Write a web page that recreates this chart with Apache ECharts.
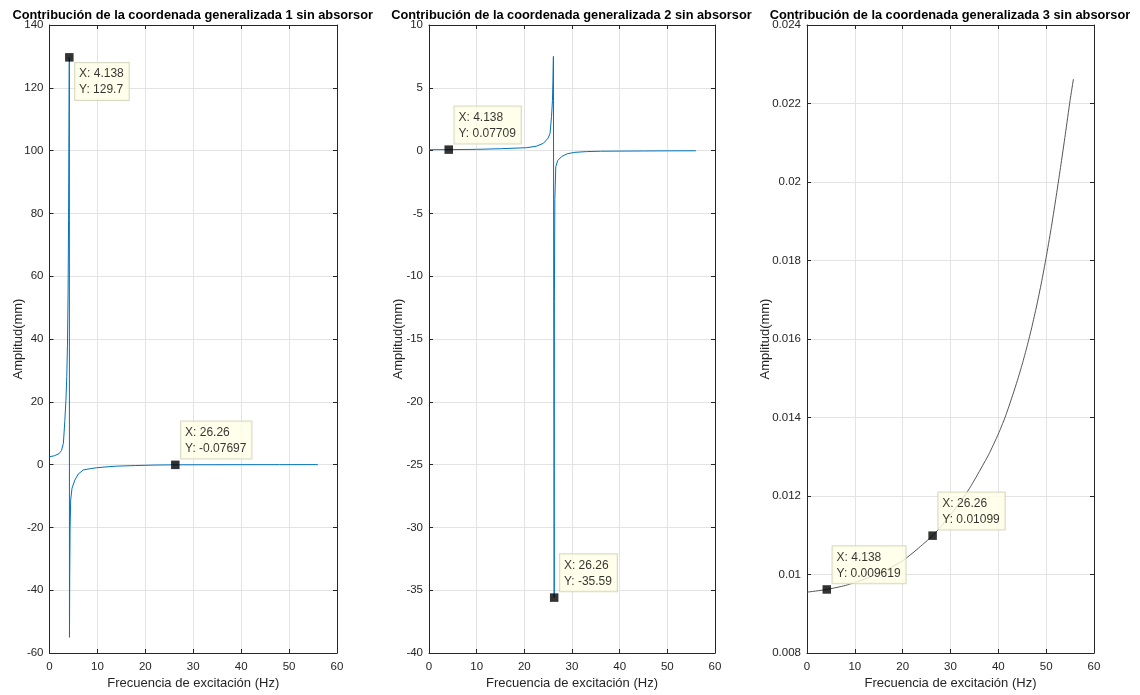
<!DOCTYPE html>
<html>
<head>
<meta charset="utf-8">
<script src="https://cdn.jsdelivr.net/npm/echarts@6/dist/echarts.min.js"></script>
<style>
html,body{margin:0;padding:0;background:#fff;}
#c{width:1140px;height:695px;}
</style>
</head>
<body>
<div id="c"></div>
<script>
// ---- data ----
const titles = [
  'Contribución de la coordenada generalizada 1 sin absorsor',
  'Contribución de la coordenada generalizada 2 sin absorsor',
  'Contribución de la coordenada generalizada 3 sin absorsor'
];
const xName = 'Frecuencia de excitación (Hz)';
const yName = 'Amplitud(mm)';
const xTicks = [0, 10, 20, 30, 40, 50, 60];
const yTicks1 = [-60, -40, -20, 0, 20, 40, 60, 80, 100, 120, 140];
const yTicks2 = [-40, -35, -30, -25, -20, -15, -10, -5, 0, 5, 10];
const yTicks3 = [0.008, 0.010, 0.012, 0.014, 0.016, 0.018, 0.020, 0.022, 0.024];

const p1X = [0,1,2,2.5,2.9,3.2,3.43,3.6,3.75,3.88,3.98,4.06,4.138,4.17,4.22,4.3,4.42,4.7,5.3,6,7.05,8.5,9.85,12,14,18,22,26.26,32,40,48,56];
const p1Y = [2.5,2.8,3.5,4.5,6.8,14,20.5,28,38,55,78,105,129.7,-55,-35,-20,-11.3,-7.5,-4.9,-3,-1.7,-1.3,-1.0,-0.7,-0.5,-0.3,-0.15,-0.07697,-0.05,-0.03,-0.02,-0.01];

const p2X = [0,4.138,10,15,20.5,22.5,24,25,25.4,25.7,25.9,26.0,26.1,26.26,26.3,26.4,26.6,27,27.8,29,30.6,33,36,40,45,50,56];
const p2Y = [0.07,0.07709,0.1,0.15,0.23,0.35,0.58,1.0,1.38,2.7,4.0,5.5,7.5,-35.59,-12,-3.9,-1.28,-0.8,-0.48,-0.25,-0.14,-0.08,-0.05,-0.04,-0.03,-0.02,-0.015];

const p3X = [0,4.138,8,12,16,20,23,26.26,28,30,32,34,36,38,40,41.4,42,43,44,45,46,47,48,49,50,51,52,53,54,55,55.7];
const p3Y = [0.00955,0.009619,0.00972,0.00988,0.01008,0.01035,0.01064,0.01099,0.01122,0.01152,0.01185,0.0122,0.01262,0.01306,0.01358,0.0140,0.01421,0.01457,0.01495,0.01536,0.01581,0.0163,0.01684,0.01743,0.01808,0.01879,0.01956,0.02037,0.02121,0.02208,0.02262];

const tipsX1 = [4.138, 26.26], tipsY1 = [129.7, -0.07697];
const tipsX2 = [4.138, 26.26], tipsY2 = [0.07709, -35.59];
const tipsX3 = [4.138, 26.26], tipsY3 = [0.009619, 0.01099];

// ---- layout / style ----
const FONT = 'Liberation Sans, Arial, Helvetica, sans-serif';
const AX = '#262626';
const GRIDC = '#e3e3e3';
const grids = [
  {left: 49.5, top: 25, width: 287.5, height: 628},
  {left: 429, top: 25, width: 286, height: 628},
  {left: 807, top: 25, width: 287, height: 628}
];
const yNameGaps = [25, 24.5, 35.5];
const yTicksAll = [yTicks1, yTicks2, yTicks3];
const lineColors = ['#0072BD', '#0072BD', '#555555'];
const pts = [[p1X, p1Y], [p2X, p2Y], [p3X, p3Y]];
const tips = [[tipsX1, tipsY1], [tipsX2, tipsY2], [tipsX3, tipsY3]];
// label placement per tip: 'below' = box below-right, 'above' = box above-right
const tipPlace = [['below', 'above'], ['above', 'above'], ['above', 'above']];

function fmtY(v) { return String(parseFloat(v.toFixed(4))); }

const xAxes = [], yAxes = [], series = [], titleArr = [];
for (let i = 0; i < 3; i++) {
  const yt = yTicksAll[i];
  const ymin = yt[0], ymax = yt[yt.length - 1], yint = yt[1] - yt[0];
  const xmin = xTicks[0], xmax = xTicks[xTicks.length - 1], xint = xTicks[1] - xTicks[0];
  xAxes.push({
    gridIndex: i, type: 'value', min: xmin, max: xmax, interval: xint, position: 'bottom',
    axisLine: {show: true, onZero: false, lineStyle: {color: AX, width: 1}},
    axisTick: {show: true, inside: true, length: 4, lineStyle: {color: AX}},
    axisLabel: {color: AX, fontSize: 11.5, margin: 8, fontFamily: FONT},
    splitLine: {show: true, lineStyle: {color: GRIDC, width: 1}},
    name: xName, nameLocation: 'middle', nameGap: 24, nameMoveOverlap: false,
    nameTextStyle: {color: AX, fontSize: 13, fontFamily: FONT}
  });
  xAxes.push({
    gridIndex: i, type: 'value', min: xmin, max: xmax, interval: xint, position: 'top',
    axisLine: {show: true, onZero: false, lineStyle: {color: AX, width: 1}},
    axisTick: {show: true, inside: true, length: 4, lineStyle: {color: AX}},
    axisLabel: {show: false}, splitLine: {show: false}
  });
  yAxes.push({
    gridIndex: i, type: 'value', min: ymin, max: ymax, interval: yint, position: 'left',
    axisLine: {show: true, onZero: false, lineStyle: {color: AX, width: 1}},
    axisTick: {show: true, inside: true, length: 4, lineStyle: {color: AX}},
    axisLabel: {color: AX, fontSize: 11.5, margin: 6, fontFamily: FONT, formatter: fmtY},
    splitLine: {show: true, lineStyle: {color: GRIDC, width: 1}},
    name: yName, nameLocation: 'middle', nameGap: yNameGaps[i], nameMoveOverlap: false,
    nameTextStyle: {color: AX, fontSize: 13, fontFamily: FONT}
  });
  yAxes.push({
    gridIndex: i, type: 'value', min: ymin, max: ymax, interval: yint, position: 'right',
    axisLine: {show: true, onZero: false, lineStyle: {color: AX, width: 1}},
    axisTick: {show: true, inside: true, length: 4, lineStyle: {color: AX}},
    axisLabel: {show: false}, splitLine: {show: false}
  });
  const [xs, ys] = pts[i];
  series.push({
    type: 'line', xAxisIndex: 2 * i, yAxisIndex: 2 * i,
    data: xs.map((x, k) => [x, ys[k]]),
    showSymbol: false, symbol: 'none',
    smooth: i === 2 ? 0.2 : false,
    lineStyle: {color: lineColors[i], width: 1}, animation: false, z: 2
  });
  const [tx, ty] = tips[i];
  series.push({
    type: 'scatter', xAxisIndex: 2 * i, yAxisIndex: 2 * i,
    symbol: 'rect', symbolSize: 8.5, itemStyle: {color: '#000'}, animation: false, z: 5,
    data: tx.map((x, k) => ({
      value: [x, ty[k]],
      label: {
        show: true,
        formatter: 'X: ' + x + '\nY: ' + ty[k],
        position: tipPlace[i][k] === 'below' ? [10, 10] : [10, -2],
        verticalAlign: tipPlace[i][k] === 'below' ? 'top' : 'bottom',
        align: 'left',
        backgroundColor: '#FFFFE6', borderColor: '#cfcfb8', borderWidth: 1,
        padding: [3, 5, 2, 4], lineHeight: 16, fontSize: 12,
        color: '#000', fontFamily: FONT
      }
    }))
  });
  titleArr.push({
    text: titles[i], left: grids[i].left + grids[i].width / 2 - 5.5, top: 4, textAlign: 'center',
    textStyle: {fontSize: 12.8, fontWeight: 'bold', color: '#000', fontFamily: FONT}
  });
}

const chart = echarts.init(document.getElementById('c'), null, {renderer: 'canvas'});
chart.setOption({
  backgroundColor: '#fff',
  animation: false,
  title: titleArr,
  grid: grids,
  xAxis: xAxes,
  yAxis: yAxes,
  series: series
});
</script>
</body>
</html>
